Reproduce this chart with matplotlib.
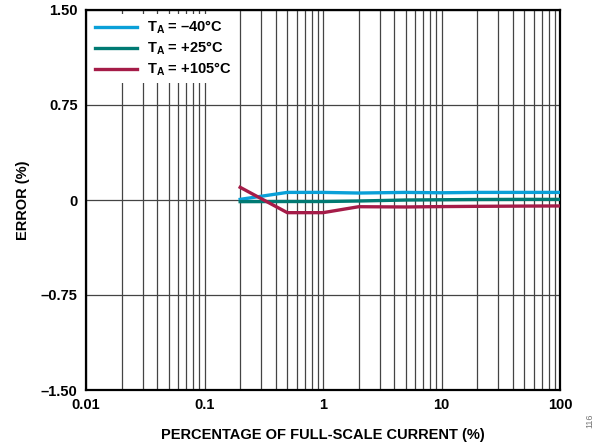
import numpy as np
import matplotlib
matplotlib.use("Agg")
import matplotlib.pyplot as plt
from matplotlib.ticker import LogLocator, FixedLocator, NullFormatter

plt.rcParams.update({
    "font.family": ["Liberation Sans", "DejaVu Sans"],
    "font.weight": "bold",
    "axes.labelweight": "bold",
    "mathtext.fontset": "custom",
    "mathtext.rm": "Liberation Sans:bold",
    "mathtext.bf": "Liberation Sans:bold",
    "mathtext.it": "Liberation Sans:bold",
})

# ---- data ----
current_pct = [0.2, 0.5, 1, 2, 5, 10, 20, 50, 100]
err_m40 = [0.005, 0.06, 0.06, 0.055, 0.06, 0.057, 0.06, 0.06, 0.06]
err_p25 = [-0.013, -0.012, -0.012, -0.008, 0.0, 0.002, 0.004, 0.005, 0.005]
err_p105 = [0.10, -0.10, -0.10, -0.053, -0.055, -0.052, -0.05, -0.048, -0.047]
labels = [r"T$_\mathbf{A}$ = –40°C", r"T$_\mathbf{A}$ = +25°C", r"T$_\mathbf{A}$ = +105°C"]
colors = ["#0aa0d8", "#007a73", "#a51c48"]

y_ticks = [-1.5, -0.75, 0, 0.75, 1.5]
y_ticklabels = ["–1.50", "–0.75", "0", "0.75", "1.50"]
x_ticks = [0.01, 0.1, 1, 10, 100]
x_ticklabels = ["0.01", "0.1", "1", "10", "100"]

fig = plt.figure(figsize=(5.99, 4.48), dpi=100)
ax = fig.add_axes([86 / 599, 58 / 448, 474 / 599, 380 / 448])

for ys, c, lab in zip([err_m40, err_p25, err_p105], colors, labels):
    ax.plot(current_pct, ys, color=c, lw=2.4, label=lab, zorder=3)

ax.set_xscale("log")
ax.set_xlim(0.01, 100)
ax.set_ylim(-1.5, 1.5)
ax.xaxis.set_major_locator(FixedLocator(x_ticks))
ax.set_xticklabels(x_ticklabels)
ax.xaxis.set_minor_locator(LogLocator(base=10, subs=np.arange(2, 10)))
ax.xaxis.set_minor_formatter(NullFormatter())
ax.set_yticks(y_ticks)
ax.set_yticklabels(y_ticklabels)

ax.grid(True, which="both", axis="x", color="#444444", lw=0.9)
ax.grid(True, which="major", axis="y", color="#444444", lw=0.9)
ax.tick_params(which="both", length=0, labelsize=10.5, pad=6)
for s in ax.spines.values():
    s.set_linewidth(1.6)
    s.set_color("black")

ax.set_xlabel("PERCENTAGE OF FULL-SCALE CURRENT (%)", fontsize=10.5, labelpad=11)
ax.set_ylabel("ERROR (%)", fontsize=10.5, labelpad=8)

leg = ax.legend(loc="upper left", frameon=True, fontsize=10.5, handlelength=2.9,
                borderaxespad=0.25, borderpad=0.35, labelspacing=0.25,
                handletextpad=0.7, fancybox=False)
leg.get_frame().set_edgecolor("none")
leg.get_frame().set_facecolor("white")
leg.get_frame().set_alpha(1.0)
leg.set_zorder(5)

fig.text(0.985, 0.06, "116", rotation=90, fontsize=6.5, color="#777777",
         fontweight="normal", ha="center", va="center")

fig.savefig("out.png", dpi=100)
